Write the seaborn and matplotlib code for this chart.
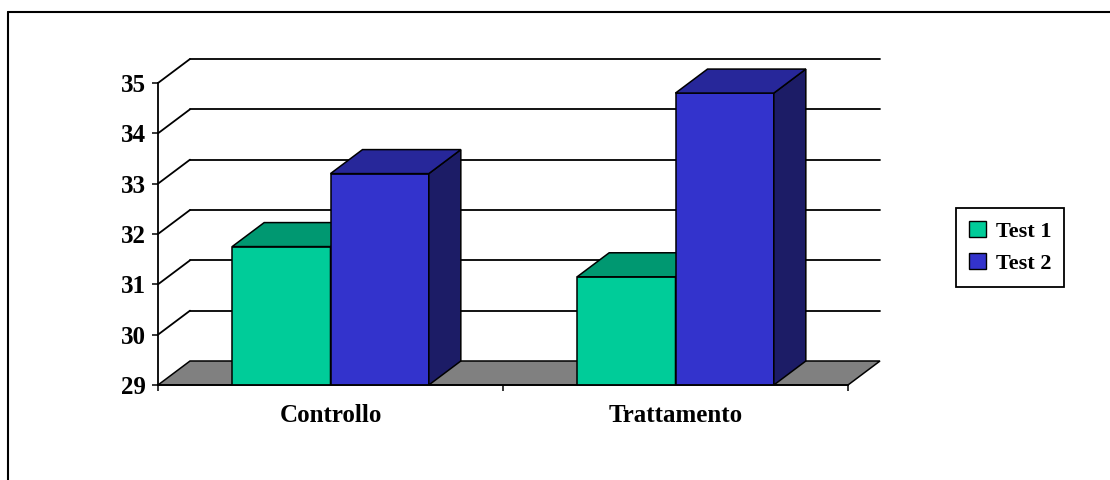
import numpy as np
import pandas as pd
import seaborn as sns
import matplotlib.pyplot as plt
from matplotlib.patches import Polygon
from matplotlib.lines import Line2D

# data
categories = ['Controllo', 'Trattamento']
series = ['Test 1', 'Test 2']
test1 = [31.75, 31.15]
test2 = [33.2, 34.8]
y_ticks = [29, 30, 31, 32, 33, 34, 35]

front_colors = ['#00CC99', '#3333CC']
top_colors = ['#009871', '#27279A']
side_colors = ['#006B50', '#1C1C66']

df = pd.DataFrame({
    'categoria': categories * 2,
    'serie': [series[0]] * 2 + [series[1]] * 2,
    'valore': test1 + test2,
})

sns.set_theme(style='ticks')
plt.rcParams['font.family'] = ['Liberation Serif', 'DejaVu Serif']
plt.rcParams['font.weight'] = 'bold'
plt.rcParams['text.color'] = 'black'
plt.rcParams['xtick.color'] = 'black'
plt.rcParams['ytick.color'] = 'black'
plt.rcParams['xtick.labelcolor'] = 'black'
plt.rcParams['ytick.labelcolor'] = 'black'

W, H = 1110, 480
fig = plt.figure(figsize=(W / 100, H / 100), dpi=100)
# axes in pixel terms: front axis x=158, back right x=880, floor y=385, top y=58
ax = fig.add_axes([158 / W, (H - 385) / H, (880 - 158) / W, (385 - 58) / H])

sns.barplot(data=df, x='categoria', y='valore', hue='serie', order=categories,
            hue_order=series, palette=front_colors, saturation=1, width=0.57,
            edgecolor='black', linewidth=1.1, ax=ax)

# depth of the fake 3D box, in data units
ppx = 345.0           # pixels per category
ppy = 302.0 / 6       # pixels per unit of value
d = 32 / ppx
e = 24 / ppy
ymin = y_ticks[0]
ax.set_xlim(-0.5, 1.5 + d)
ax.set_ylim(ymin, ymin + 327 / ppy)

# floor
floor = Polygon([(-0.5, ymin), (1.5, ymin), (1.5 + d, ymin + e), (-0.5 + d, ymin + e)],
                closed=True, facecolor='#808080', edgecolor='black', lw=1.1, zorder=0.5,
                clip_on=False)
ax.add_patch(floor)

# back wall gridlines and side wall diagonals
for k in y_ticks[1:]:
    ax.plot([-0.5 + d, 1.5 + d], [k + e, k + e], color='black', lw=1.3, zorder=0.4,
            clip_on=False)
    ax.plot([-0.5, -0.5 + d], [k, k + e], color='black', lw=1.3, zorder=0.4,
            clip_on=False)

# top and side faces for each bar
for i, cont in enumerate(ax.containers):
    z = 2 + i
    for bar in cont:
        bar.set_zorder(z)
        x0 = bar.get_x()
        x1 = x0 + bar.get_width()
        h = bar.get_y() + bar.get_height()
        top = Polygon([(x0, h), (x1, h), (x1 + d, h + e), (x0 + d, h + e)], closed=True,
                      facecolor=top_colors[i], edgecolor='black', lw=1.1, zorder=z)
        side = Polygon([(x1, ymin), (x1, h), (x1 + d, h + e), (x1 + d, ymin + e)],
                       closed=True, facecolor=side_colors[i], edgecolor='black', lw=1.1,
                       zorder=z)
        ax.add_patch(side)
        ax.add_patch(top)

# axes styling
for s in ['top', 'right']:
    ax.spines[s].set_visible(False)
ax.spines['left'].set_bounds(ymin, y_ticks[-1])
ax.spines['bottom'].set_bounds(-0.5, 1.5)
for s in ['left', 'bottom']:
    ax.spines[s].set_linewidth(1.3)
    ax.spines[s].set_color('black')
    ax.spines[s].set_zorder(6)

ax.set_yticks(y_ticks)
ax.set_yticklabels([str(t) for t in y_ticks])
ax.tick_params(axis='y', length=4.5, width=1.1, pad=4, labelsize=18)
ax.set_xticks([0, 1])
ax.set_xticklabels(categories)
ax.set_xticks([-0.5, 0.5, 1.5], minor=True)
ax.tick_params(axis='x', which='major', length=0, pad=14, labelsize=18)
ax.tick_params(axis='x', which='minor', length=4.5, width=1.1)
ax.set_xlabel('')
ax.set_ylabel('')

# legend
handles, labels = ax.get_legend_handles_labels()
ax.get_legend().remove()
leg = fig.legend(handles, labels, loc='center', bbox_to_anchor=(1010 / W, 1 - 247.5 / H),
                 fontsize=16, frameon=True, fancybox=False, edgecolor='black',
                 framealpha=1, handlelength=0.75, handleheight=0.75, handletextpad=0.45,
                 borderpad=0.6, labelspacing=0.5)
leg.get_frame().set_linewidth(1.3)
for hnd in leg.legend_handles:
    hnd.set_edgecolor('black')
    hnd.set_linewidth(1.0)

# outer frame (only top and left visible)
fig.add_artist(Line2D([8 / W, 1.0], [1 - 11.5 / H] * 2, color='black', lw=1.5))
fig.add_artist(Line2D([8 / W] * 2, [0.0, 1 - 11.5 / H], color='black', lw=1.5))

fig.savefig('out.png', dpi=100)
